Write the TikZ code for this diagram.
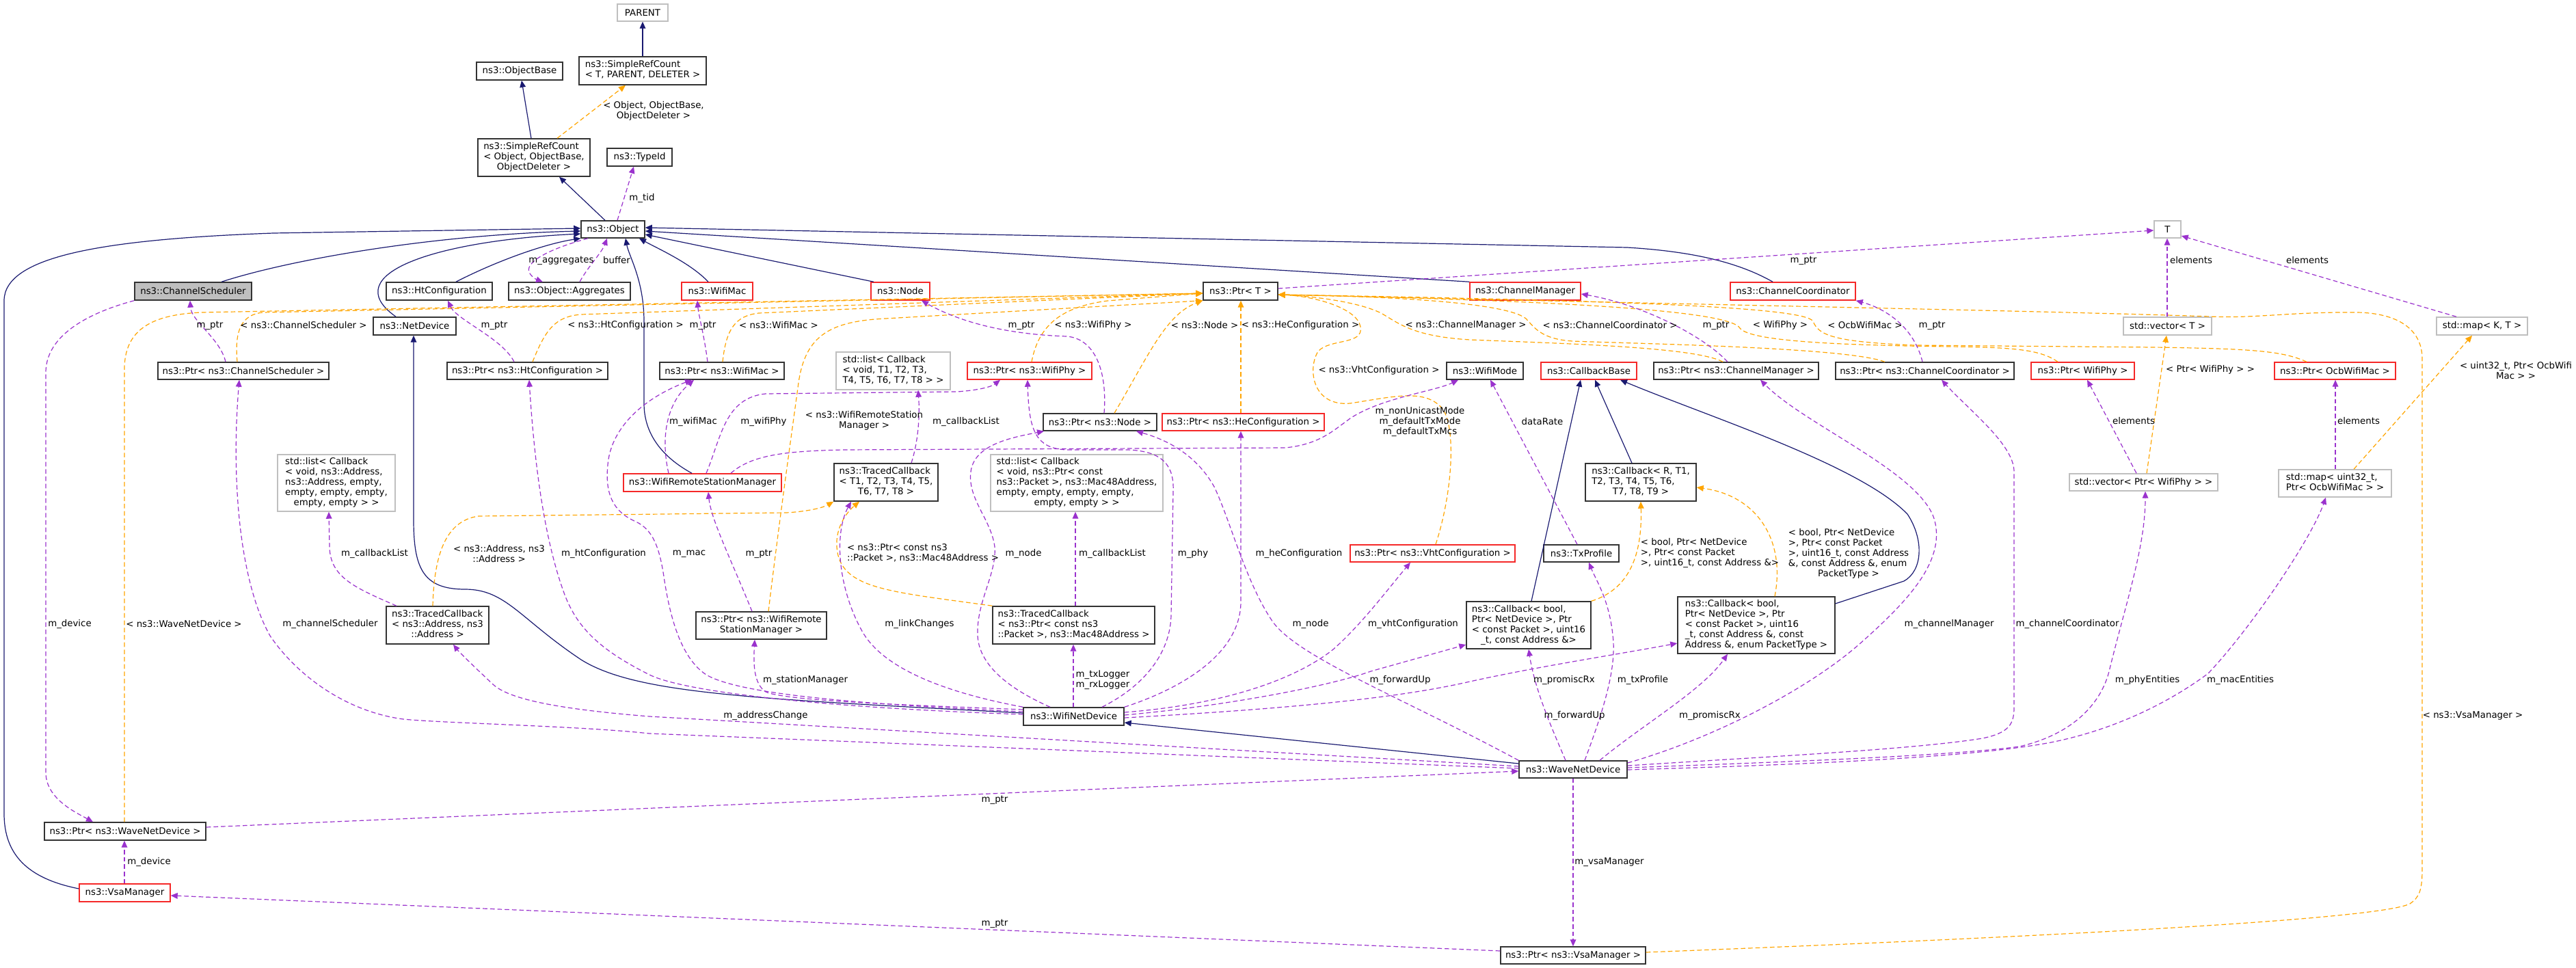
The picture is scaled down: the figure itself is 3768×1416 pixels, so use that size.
\documentclass[tikz,border=0pt]{standalone}
\usepackage{fontspec}
\setmainfont{DejaVu Sans}
\usetikzlibrary{arrows.meta}
\definecolor{navy}{RGB}{25,25,112}
\definecolor{dpurple}{RGB}{154,50,205}
\definecolor{dorange}{RGB}{255,165,0}
\definecolor{dred}{RGB}{245,40,40}
\definecolor{gborder}{RGB}{191,191,191}
\definecolor{gfill}{RGB}{191,191,191}
\newcommand{\nf}{\fontsize{10}{11.25}\selectfont}
\newcommand{\ndbox}[7]{\node[#1, minimum width={(#5-#3)*0.75pt}, minimum height={(#6-#4)*0.75pt}] (#2) at ({(#3+#5)/2},{(#4+#6)/2}) {#7};}
\newcommand{\elab}[4]{\node[lbl] (#1) at (#2,#3) {#4};}
\newcommand{\tlines}[2]{\begin{tabular}{@{}l@{}}#1\\\multicolumn{1}{@{}c@{}}{#2}\end{tabular}}
\tikzset{
  nbox/.style={draw, line width=1.1pt, inner sep=1pt, align=center, font=\nf},
  cls/.style={nbox, draw=black!80},
  ext/.style={nbox, draw=gborder},
  redb/.style={nbox, draw=dred},
  focus/.style={nbox, draw=black!80, fill=gfill},
  lbl/.style={inner sep=0pt, align=center, font=\nf},
  inh/.style={draw=navy, line width=0.9pt, -{Triangle[length=7.5pt,width=6.5pt]}},
  use/.style={draw=dpurple, line width=0.9pt, dash pattern=on 5pt off 3pt, -{Triangle[length=7.5pt,width=6.5pt]}},
  tpl/.style={draw=dorange, line width=0.9pt, dash pattern=on 5pt off 3pt, -{Triangle[length=7.5pt,width=6.5pt]}},
}
\begin{document}
\begin{tikzpicture}[x=0.75pt,y=-0.75pt]
\useasboundingbox (0,0) rectangle (3768,1416);
% ---------------- nodes
\ndbox{ext}{PARENT}{903}{6}{977}{31}{PARENT}
\ndbox{cls}{SRCT}{847}{83}{1033}{124}{\tlines{ns3::SimpleRefCount}{< T, PARENT, DELETER >}}
\ndbox{cls}{ObjectBase}{697}{91}{823}{117}{ns3::ObjectBase}
\ndbox{cls}{SRCO}{699}{203}{863}{258}{\tlines{ns3::SimpleRefCount\\< Object, ObjectBase,}{ObjectDeleter >}}
\ndbox{cls}{TypeId}{888}{217}{983}{243}{ns3::TypeId}
\ndbox{cls}{Object}{850}{323}{943}{348}{ns3::Object}
\ndbox{ext}{T}{3151}{323}{3190}{348}{T}
\ndbox{focus}{ChSched}{197}{413}{368}{439}{ns3::ChannelScheduler}
\ndbox{cls}{HtConf}{565}{413}{720}{439}{ns3::HtConfiguration}
\ndbox{cls}{Aggr}{744}{413}{922}{439}{ns3::Object::Aggregates}
\ndbox{redb}{WifiMac}{997}{413}{1101}{439}{ns3::WifiMac}
\ndbox{redb}{Node}{1274}{413}{1360}{439}{ns3::Node}
\ndbox{cls}{PtrT}{1760}{413}{1869}{439}{ns3::Ptr< T >}
\ndbox{redb}{ChMgr}{2150}{413}{2312}{439}{ns3::ChannelManager}
\ndbox{redb}{ChCoord}{2531}{413}{2714}{439}{ns3::ChannelCoordinator}
\ndbox{cls}{NetDevice}{546}{464}{667}{490}{ns3::NetDevice}
\ndbox{ext}{VecT}{3106}{464}{3235}{490}{std::vector< T >}
\ndbox{ext}{MapKT}{3564}{464}{3697}{490}{std::map< K, T >}
\ndbox{cls}{PtrCS}{231}{530}{481}{555}{ns3::Ptr< ns3::ChannelScheduler >}
\ndbox{cls}{PtrHt}{654}{530}{889}{555}{ns3::Ptr< ns3::HtConfiguration >}
\ndbox{cls}{PtrWifiMac}{965}{530}{1147}{555}{ns3::Ptr< ns3::WifiMac >}
\ndbox{ext}{ListCbT}{1223}{515}{1390}{570}{\tlines{std::list< Callback\\< void, T1, T2, T3,}{T4, T5, T6, T7, T8 > >}}
\ndbox{redb}{PtrWifiPhy}{1415}{530}{1597}{555}{ns3::Ptr< ns3::WifiPhy >}
\ndbox{cls}{WifiMode}{2116}{530}{2228}{555}{ns3::WifiMode}
\ndbox{redb}{CbBase}{2254}{530}{2394}{555}{ns3::CallbackBase}
\ndbox{cls}{PtrChMgr}{2419}{530}{2660}{555}{ns3::Ptr< ns3::ChannelManager >}
\ndbox{cls}{PtrChCoord}{2685}{530}{2946}{555}{ns3::Ptr< ns3::ChannelCoordinator >}
\ndbox{redb}{PtrWifiPhy2}{2971}{530}{3122}{555}{ns3::Ptr< WifiPhy >}
\ndbox{redb}{PtrOcb}{3327}{530}{3504}{555}{ns3::Ptr< OcbWifiMac >}
\ndbox{cls}{PtrNode}{1526}{605}{1692}{630}{ns3::Ptr< ns3::Node >}
\ndbox{redb}{PtrHe}{1700}{605}{1937}{630}{ns3::Ptr< ns3::HeConfiguration >}
\ndbox{ext}{ListCbAddr}{406}{665}{578}{748}{\tlines{std::list< Callback\\< void, ns3::Address,\\ns3::Address, empty,\\empty, empty, empty,}{empty, empty > >}}
\ndbox{ext}{ListCbPkt}{1449}{665}{1701}{748}{\tlines{std::list< Callback\\< void, ns3::Ptr< const\\ns3::Packet >, ns3::Mac48Address,\\empty, empty, empty, empty,}{empty, empty > >}}
\ndbox{redb}{WRSM}{912}{693}{1143}{719}{ns3::WifiRemoteStationManager}
\ndbox{cls}{TCT}{1220}{678}{1372}{733}{\tlines{ns3::TracedCallback\\< T1, T2, T3, T4, T5,}{T6, T7, T8 >}}
\ndbox{cls}{CbR}{2319}{678}{2481}{733}{\tlines{ns3::Callback< R, T1,\\T2, T3, T4, T5, T6,}{T7, T8, T9 >}}
\ndbox{ext}{VecPhy}{3027}{693}{3244}{718}{std::vector< Ptr< WifiPhy > >}
\ndbox{ext}{MapOcb}{3333}{687}{3498}{727}{\tlines{std::map< uint32\_t,}{Ptr< OcbWifiMac > >}}
\ndbox{redb}{PtrVht}{1975}{797}{2216}{822}{ns3::Ptr< ns3::VhtConfiguration >}
\ndbox{cls}{TxProfile}{2258}{797}{2368}{822}{ns3::TxProfile}
\ndbox{cls}{TCAddr}{565}{887}{715}{942}{\tlines{ns3::TracedCallback\\< ns3::Address, ns3}{::Address >}}
\ndbox{cls}{PtrWRSM}{1018}{895}{1209}{935}{\tlines{ns3::Ptr< ns3::WifiRemote}{StationManager >}}
\ndbox{cls}{TCPkt}{1452}{887}{1689}{942}{\tlines{ns3::TracedCallback\\< ns3::Ptr< const ns3}{::Packet >, ns3::Mac48Address >}}
\ndbox{cls}{Cb1}{2145}{880}{2327}{949}{\tlines{ns3::Callback< bool,\\Ptr< NetDevice >, Ptr\\< const Packet >, uint16}{\_t, const Address \&>}}
\ndbox{cls}{Cb2}{2454}{873}{2684}{956}{\tlines{ns3::Callback< bool,\\Ptr< NetDevice >, Ptr\\< const Packet >, uint16\\\_t, const Address \&, const}{Address \&, enum PacketType >}}
\ndbox{cls}{WifiNetDev}{1497}{1035}{1644}{1061}{ns3::WifiNetDevice}
\ndbox{cls}{WaveNetDev}{2222}{1113}{2380}{1138}{ns3::WaveNetDevice}
\ndbox{cls}{PtrWND}{65}{1203}{301}{1229}{ns3::Ptr< ns3::WaveNetDevice >}
\ndbox{redb}{VsaMgr}{116}{1293}{249}{1319}{ns3::VsaManager}
\ndbox{cls}{PtrVsa}{2195}{1385}{2407}{1410}{ns3::Ptr< ns3::VsaManager >}
% ---------------- inheritance
\draw[inh] (SRCT.north -| 940,0) -- (PARENT.south -| 940,0);
\draw[inh] (SRCO.north -| 777,0) -- (ObjectBase.south -| 763,0);
\draw[inh] (Object.north -| 885,0) -- (SRCO.south -| 818,0);
\draw[inh] (ChSched.north -| 324,0) .. controls (430,378) and (640,343) .. (Object.west |- 0,338);
\draw[inh] (NetDevice.north -| 579,0) .. controls (490,400) and (640,352) .. (Object.west |- 0,342);
\draw[inh] (HtConf.north -| 667,0) .. controls (730,380) and (800,356) .. (Object.south west);
\draw[inh] (VsaMgr.west |- 0,1300) .. controls (40,1285) and (6,1250) .. (6,1190) -- (6,440) .. controls (6,375) and (150,350) .. (400,341) -- (Object.west |- 0,334);
\draw[inh] (WifiMac.north -| 1036,0) .. controls (1010,385) and (965,365) .. (Object.south -| 935,0);
\draw[inh] (Node.north -| 1278,0) -- (Object.east |- 0,343);
\draw[inh] (ChMgr.north west) -- (Object.east |- 0,338);
\draw[inh] (ChCoord.north -| 2593,0) .. controls (2545,385) and (2480,368) .. (2380,362) -- (Object.east |- 0,333);
\draw[inh] (WRSM.north -| 1012,0) .. controls (975,672) and (942,640) .. (942,590) -- (942,470) .. controls (942,410) and (920,375) .. (Object.south -| 915,0);
\draw[inh] (WifiNetDev.west |- 0,1043) .. controls (1100,1022) and (930,1015) .. (850,965) .. controls (760,905) and (740,862) .. (680,862) .. controls (618,862) and (605,830) .. (605,760) -- (NetDevice.south -| 605,0);
\draw[inh] (WaveNetDev.west |- 0,1117) -- (WifiNetDev.east |- 0,1057);
\draw[inh] (Cb1.north -| 2240,0) -- (CbBase.south -| 2312,0);
\draw[inh] (CbR.north -| 2387,0) -- (CbBase.south -| 2333,0);
\draw[inh] (Cb2.east |- 0,883) -- (2785,850) .. controls (2812,835) and (2815,790) .. (2790,752) .. controls (2720,680) and (2500,610) .. (CbBase.south -| 2370,0);
% ---------------- template instances
\draw[tpl] (SRCO.north -| 815,0) -- (SRCT.south -| 915,0);
\draw[tpl] (PtrCS.north -| 347,0) .. controls (343,485) and (352,460) .. (385,457) -- (PtrT.west |- 0,429);
\draw[tpl] (PtrWND.north -| 182,0) -- (182,540) .. controls (182,480) and (225,460) .. (295,457) -- (PtrT.west |- 0,429);
\draw[tpl] (PtrHt.north -| 779,0) .. controls (798,482) and (812,463) .. (850,460) -- (PtrT.west |- 0,429);
\draw[tpl] (PtrWifiMac.north -| 1057,0) .. controls (1062,482) and (1075,462) .. (1110,458) -- (PtrT.west |- 0,429);
\draw[tpl] (PtrWifiPhy.north -| 1509,0) .. controls (1520,470) and (1560,448) .. (1620,440) -- (PtrT.west |- 0,429);
\draw[tpl] (PtrNode.north -| 1630,0) .. controls (1680,520) and (1705,460) .. (PtrT.south west);
\draw[tpl] (PtrWRSM.north -| 1124,0) .. controls (1140,760) and (1160,620) .. (1168,560) .. controls (1178,490) and (1215,470) .. (1295,466) -- (PtrT.south west);
\draw[tpl] (PtrHe.north -| 1815,0) -- (PtrT.south -| 1815,0);
\draw[tpl] (PtrVht.north -| 2100,0) .. controls (2125,720) and (2130,625) .. (2110,598) .. controls (2085,568) and (2040,580) .. (1975,590) .. controls (1920,595) and (1912,540) .. (1928,514) .. controls (1945,495) and (1995,505) .. (1990,478) .. controls (1985,450) and (1920,433) .. (PtrT.east |- 0,431);
\draw[tpl] (PtrChMgr.north -| 2520,0) .. controls (2480,508) and (2300,503) .. (2150,497) .. controls (2065,492) and (2045,472) .. (2020,458) .. controls (1990,443) and (1930,434) .. (PtrT.east |- 0,431);
\draw[tpl] (PtrChCoord.north -| 2757,0) .. controls (2700,508) and (2400,503) .. (2300,499) .. controls (2255,496) and (2245,480) .. (2232,466) .. controls (2200,440) and (2000,433) .. (PtrT.east |- 0,431);
\draw[tpl] (PtrWifiPhy2.north -| 3010,0) .. controls (2985,512) and (2950,508) .. (2850,507) .. controls (2700,505) and (2560,500) .. (2545,480) .. controls (2530,455) and (2300,440) .. (PtrT.east |- 0,431);
\draw[tpl] (PtrOcb.north -| 3374,0) .. controls (3340,514) and (3300,510) .. (3150,508) -- (2800,505) .. controls (2680,500) and (2660,490) .. (2652,470) .. controls (2640,450) and (2400,440) .. (PtrT.east |- 0,431);
\draw[tpl] (PtrVsa.east |- 0,1393) .. controls (3000,1370) and (3480,1345) .. (3525,1322) .. controls (3540,1312) and (3543,1300) .. (3543,1270) -- (3543,525) .. controls (3543,480) and (3505,458) .. (3448,457) .. controls (3350,456) and (3300,466) .. (3232,463) .. controls (3000,455) and (2500,446) .. (PtrT.east |- 0,431);
\draw[tpl] (VecPhy.north -| 3140,0) -- (VecT.south -| 3169,0);
\draw[tpl] (MapOcb.north -| 3443,0) -- (MapKT.south -| 3616,0);
\draw[tpl] (Cb1.north east) .. controls (2390,860) and (2402,800) .. (CbR.south -| 2400,0);
\draw[tpl] (Cb2.north -| 2596,0) .. controls (2612,790) and (2570,725) .. (CbR.east |- 0,713);
\draw[tpl] (TCAddr.north -| 633,0) .. controls (635,815) and (650,762) .. (700,755) -- (1150,750) .. controls (1185,748) and (1205,742) .. (TCT.south west);
\draw[tpl] (TCPkt.north west) .. controls (1300,865) and (1228,862) .. (1224,800) .. controls (1222,770) and (1240,748) .. (TCT.south -| 1257,0);
% ---------------- usage
\draw[use] (Object.north -| 903,0) -- (TypeId.south -| 927,0);
\draw[use] (Object.south -| 860,0) .. controls (800,365) and (765,385) .. (775,400) .. controls (780,408) and (788,410) .. (Aggr.north -| 794,0);
\draw[use] (Aggr.north -| 848,0) .. controls (860,390) and (880,370) .. (Object.south -| 888,0);
\draw[use] (PtrCS.north -| 330,0) .. controls (322,495) and (280,470) .. (ChSched.south -| 278,0);
\draw[use] (PtrHt.north -| 752,0) .. controls (735,495) and (668,468) .. (HtConf.south -| 655,0);
\draw[use] (PtrWifiMac.north -| 1035,0) .. controls (1030,490) and (1022,462) .. (WifiMac.south -| 1020,0);
\draw[use] (PtrNode.north -| 1615,0) .. controls (1620,540) and (1600,495) .. (1560,492) .. controls (1500,490) and (1420,480) .. (Node.south -| 1348,0);
\draw[use] (PtrChMgr.north -| 2527,0) .. controls (2490,490) and (2400,445) .. (ChMgr.east |- 0,430);
\draw[use] (PtrChCoord.north -| 2812,0) .. controls (2800,480) and (2760,452) .. (ChCoord.south east);
\draw[use] (PtrT.east |- 0,422) -- (T.west |- 0,337);
\draw[use] (VecT.north -| 3170,0) -- (T.south -| 3170,0);
\draw[use] (MapKT.north -| 3593,0) -- (T.east |- 0,345);
\draw[use] (VecPhy.north -| 3125,0) -- (PtrWifiPhy2.south -| 3053,0);
\draw[use] (MapOcb.north -| 3416,0) -- (PtrOcb.south -| 3416,0);
\draw[use] (TCAddr.north -| 580,0) .. controls (520,860) and (483,845) .. (482,800) -- (ListCbAddr.south -| 481,0);
\draw[use] (TCT.north -| 1333,0) .. controls (1345,640) and (1345,600) .. (ListCbT.south -| 1343,0);
\draw[use] (TCPkt.north -| 1573,0) -- (ListCbPkt.south -| 1573,0);
\draw[use] (WRSM.north -| 978,0) .. controls (966,640) and (975,590) .. (PtrWifiMac.south -| 1015,0);
\draw[use] (WRSM.north -| 1033,0) .. controls (1055,640) and (1060,582) .. (1120,576) -- (1400,573) .. controls (1430,571) and (1450,566) .. (PtrWifiPhy.south -| 1463,0);
\draw[use] (PtrWRSM.north -| 1100,0) .. controls (1070,820) and (1040,760) .. (WRSM.south -| 1036,0);
\draw[use] (WRSM.north -| 1069,0) .. controls (1100,665) and (1150,660) .. (1233,658) -- (1880,655) .. controls (1930,650) and (1950,630) .. (1975,612) .. controls (2020,582) and (2100,572) .. (WifiMode.south -| 2133,0);
\draw[use] (TxProfile.north -| 2307,0) -- (WifiMode.south -| 2180,0);
% WifiNetDevice members
\draw[use] (WifiNetDev.west |- 0,1041) .. controls (1250,1030) and (1080,1015) .. (1033,987) .. controls (995,962) and (980,900) .. (972,850) .. controls (965,800) and (955,775) .. (930,763) .. controls (895,748) and (885,720) .. (889,680) .. controls (893,630) and (935,585) .. (PtrWifiMac.south -| 1012,0);
\draw[use] (WifiNetDev.west |- 0,1045) .. controls (1200,1035) and (1000,1012) .. (950,987) .. controls (880,952) and (845,920) .. (826,870) .. controls (800,800) and (783,700) .. (PtrHt.south -| 774,0);
\draw[use] (WifiNetDev.west |- 0,1038) .. controls (1350,1032) and (1150,1026) .. (1120,1012) .. controls (1102,1000) and (1102,970) .. (PtrWRSM.south -| 1104,0);
\draw[use] (WifiNetDev.north west) .. controls (1420,1020) and (1300,990) .. (1262,925) .. controls (1225,860) and (1220,780) .. (TCT.south -| 1245,0);
\draw[use] (WifiNetDev.north -| 1536,0) .. controls (1470,1005) and (1432,970) .. (1430,930) .. controls (1428,880) and (1458,840) .. (1455,800) .. controls (1450,760) and (1415,730) .. (1420,690) .. controls (1425,650) and (1480,640) .. (PtrNode.south -| 1527,0);
\draw[use] (WifiNetDev.north -| 1570,0) -- (TCPkt.south -| 1570,0);
\draw[use] (WifiNetDev.north -| 1612,0) .. controls (1680,1000) and (1712,950) .. (1713,900) -- (1716,720) .. controls (1718,680) and (1700,660) .. (1650,658) -- (1560,658) .. controls (1515,656) and (1505,630) .. (PtrWifiPhy.south -| 1503,0);
\draw[use] (WifiNetDev.north east) .. controls (1720,1010) and (1815,960) .. (1815,880) -- (PtrHe.south -| 1815,0);
\draw[use] (WifiNetDev.east |- 0,1042) .. controls (1800,1030) and (1900,990) .. (1950,950) .. controls (1990,915) and (2030,862) .. (PtrVht.south -| 2063,0);
\draw[use] (WifiNetDev.east |- 0,1046) .. controls (1800,1032) and (1950,1002) .. (2005,982) -- (Cb1.west |- 0,943);
\draw[use] (WifiNetDev.east |- 0,1050) .. controls (1900,1036) and (2050,1020) .. (2150,997) .. controls (2250,975) and (2350,960) .. (Cb2.west |- 0,941);
% WaveNetDevice members
\draw[use] (WaveNetDev.west |- 0,1121) -- (950,1048) .. controls (800,1036) and (740,1020) .. (720,1000) .. controls (690,972) and (670,952) .. (TCAddr.south -| 663,0);
\draw[use] (WaveNetDev.west |- 0,1124) -- (950,1073) .. controls (850,1062) and (650,1058) .. (590,1052) .. controls (500,1040) and (430,982) .. (395,930) .. controls (350,850) and (338,700) .. (PtrCS.south -| 350,0);
\draw[use] (PtrWND.east |- 0,1210) -- (WaveNetDev.west |- 0,1128);
\draw[use] (PtrVsa.west |- 0,1391) -- (VsaMgr.east |- 0,1310);
\draw[use] (ChSched.south west) .. controls (150,452) and (67,482) .. (67,545) -- (67,1130) .. controls (67,1168) and (110,1188) .. (PtrWND.north -| 136,0);
\draw[use] (VsaMgr.north -| 182,0) -- (PtrWND.south -| 182,0);
\draw[use] (WaveNetDev.south -| 2301,0) -- (PtrVsa.north -| 2301,0);
\draw[use] (WaveNetDev.north -| 2290,0) .. controls (2272,1070) and (2245,1010) .. (Cb1.south -| 2236,0);
\draw[use] (WaveNetDev.north -| 2340,0) .. controls (2400,1062) and (2490,1010) .. (Cb2.south -| 2527,0);
\draw[use] (WaveNetDev.north -| 2318,0) .. controls (2345,1040) and (2362,985) .. (2360,940) .. controls (2356,880) and (2335,850) .. (TxProfile.south -| 2324,0);
\draw[use] (WaveNetDev.north west) .. controls (2050,1020) and (1900,962) .. (1862,910) .. controls (1822,852) and (1800,762) .. (1776,712) .. controls (1748,662) and (1702,642) .. (PtrNode.south -| 1662,0);
\draw[use] (WaveNetDev.east |- 0,1116) .. controls (2500,1082) and (2640,1012) .. (2720,942) .. controls (2790,880) and (2845,822) .. (2830,762) .. controls (2812,692) and (2640,622) .. (PtrChMgr.south -| 2575,0);
\draw[use] (WaveNetDev.east |- 0,1120) .. controls (2600,1106) and (2800,1096) .. (2900,1080) .. controls (2938,1072) and (2946,1060) .. (2946,1035) -- (2946,690) .. controls (2946,650) and (2880,600) .. (PtrChCoord.south -| 2840,0);
\draw[use] (WaveNetDev.east |- 0,1123) .. controls (2600,1115) and (2850,1106) .. (2954,1092) .. controls (3040,1072) and (3075,1022) .. (3085,982) .. controls (3110,880) and (3138,800) .. (VecPhy.south -| 3138,0);
\draw[use] (WaveNetDev.east |- 0,1126) .. controls (2700,1117) and (2900,1105) .. (3000,1086) .. controls (3110,1064) and (3190,1015) .. (3230,985) .. controls (3290,922) and (3380,790) .. (MapOcb.south -| 3402,0);
% ---------------- labels
\elab{l01}{956}{162}{< Object, ObjectBase,\\ObjectDeleter >}
\elab{l02}{939}{290}{m\_tid}
\elab{l03}{821}{381}{m\_aggregates}
\elab{l04}{902}{381}{buffer}
\elab{l05}{2638}{381}{m\_ptr}
\elab{l06}{3205}{381}{elements}
\elab{l07}{3375}{381}{elements}
\elab{l08}{307}{476}{m\_ptr}
\elab{l09}{444}{476}{< ns3::ChannelScheduler >}
\elab{l10}{723}{476}{m\_ptr}
\elab{l11}{915}{476}{< ns3::HtConfiguration >}
\elab{l12}{1028}{476}{m\_ptr}
\elab{l13}{1139}{476}{< ns3::WifiMac >}
\elab{l14}{1494}{476}{m\_ptr}
\elab{l15}{1599}{476}{< ns3::WifiPhy >}
\elab{l16}{1762}{476}{< ns3::Node >}
\elab{l17}{1902}{476}{< ns3::HeConfiguration >}
\elab{l18}{2144}{476}{< ns3::ChannelManager >}
\elab{l19}{2355}{476}{< ns3::ChannelCoordinator >}
\elab{l20}{2510}{476}{m\_ptr}
\elab{l21}{2604}{476}{< WifiPhy >}
\elab{l22}{2728}{476}{< OcbWifiMac >}
\elab{l23}{2826}{476}{m\_ptr}
\elab{l24}{3680}{542}{< uint32\_t, Ptr< OcbWifi\\Mac > >}
\elab{l25}{2017}{542}{< ns3::VhtConfiguration >}
\elab{l26}{3233}{541}{< Ptr< WifiPhy > >}
\elab{l27}{1014}{617}{m\_wifiMac}
\elab{l28}{1117}{617}{m\_wifiPhy}
\elab{l29}{1264}{615}{< ns3::WifiRemoteStation\\Manager >}
\elab{l30}{1413}{617}{m\_callbackList}
\elab{l31}{2077}{617}{m\_nonUnicastMode\\m\_defaultTxMode\\m\_defaultTxMcs}
\elab{l32}{2256}{617}{dataRate}
\elab{l33}{3121}{616}{elements}
\elab{l34}{3450}{616}{elements}
\elab{l35}{2501}{809}{\tlines{< bool, Ptr< NetDevice\\>, Ptr< const Packet}{>, uint16\_t, const Address \&>}}
\elab{l36}{2704}{810}{\tlines{< bool, Ptr< NetDevice\\>, Ptr< const Packet\\>, uint16\_t, const Address\\\&, const Address \&, enum}{PacketType >}}
\elab{l37}{548}{810}{m\_callbackList}
\elab{l38}{730}{810}{< ns3::Address, ns3\\::Address >}
\elab{l39}{883}{810}{m\_htConfiguration}
\elab{l40}{1008}{810}{m\_mac}
\elab{l41}{1110}{810}{m\_ptr}
\elab{l42}{1350}{810}{\tlines{< ns3::Ptr< const ns3}{::Packet >, ns3::Mac48Address >}}
\elab{l43}{1497}{810}{m\_node}
\elab{l44}{1627}{810}{m\_callbackList}
\elab{l45}{1745}{810}{m\_phy}
\elab{l46}{1900}{810}{m\_heConfiguration}
\elab{l47}{102}{913}{m\_device}
\elab{l48}{269}{913}{< ns3::WaveNetDevice >}
\elab{l49}{483}{913}{m\_channelScheduler}
\elab{l50}{1345}{913}{m\_linkChanges}
\elab{l51}{1917}{913}{m\_node}
\elab{l52}{2067}{913}{m\_vhtConfiguration}
\elab{l53}{2851}{913}{m\_channelManager}
\elab{l54}{3024}{913}{m\_channelCoordinator}
\elab{l55}{1178}{995}{m\_stationManager}
\elab{l56}{1613}{995}{m\_txLogger\\m\_rxLogger}
\elab{l57}{2048}{995}{m\_forwardUp}
\elab{l58}{2288}{995}{m\_promiscRx}
\elab{l59}{2403}{995}{m\_txProfile}
\elab{l60}{3141}{995}{m\_phyEntities}
\elab{l61}{3277}{995}{m\_macEntities}
\elab{l62}{1120}{1047}{m\_addressChange}
\elab{l63}{2303}{1047}{m\_forwardUp}
\elab{l64}{2501}{1047}{m\_promiscRx}
\elab{l65}{3617}{1047}{< ns3::VsaManager >}
\elab{l66}{1455}{1170}{m\_ptr}
\elab{l67}{218}{1261}{m\_device}
\elab{l68}{2354}{1261}{m\_vsaManager}
\elab{l69}{1455}{1351}{m\_ptr}
\end{tikzpicture}
\end{document}
